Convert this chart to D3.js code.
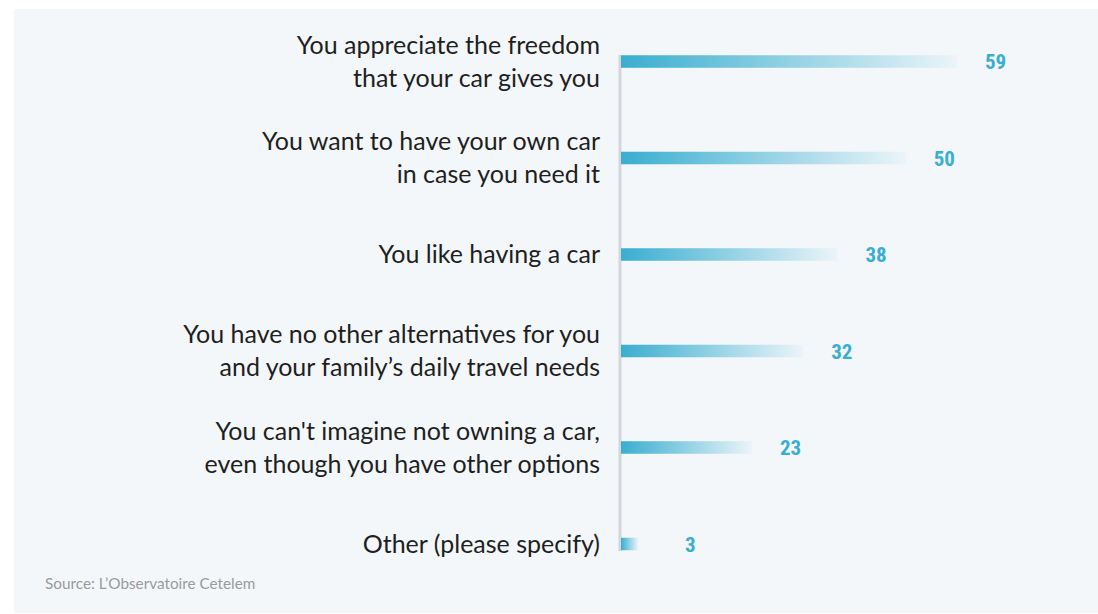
<!DOCTYPE html>
<html><head><meta charset="utf-8">
<script src="https://cdn.jsdelivr.net/npm/d3@7"></script>
<style>html,body{margin:0;padding:0;background:#fff;}svg{display:block;}</style>
</head><body>
<svg id="chart" width="1098" height="614"></svg>
<script>
const categories = [
  ["You appreciate the freedom","that your car gives you"],
  ["You want to have your own car","in case you need it"],
  ["You like having a car"],
  ["You have no other alternatives for you","and your family’s daily travel needs"],
  ["You can't imagine not owning a car,","even though you have other options"],
  ["Other (please specify)"]
];
const values = [59, 50, 38, 32, 23, 3];
const source = "Source: L’Observatoire Cetelem";

const svg = d3.select("#chart");
svg.append("rect").attr("x",14).attr("y",9).attr("width",1084).attr("height",604).attr("fill","#f3f7fa");

const x = d3.scaleLinear().domain([0,59]).range([621,957]);
const y = d3.scaleBand().domain(d3.range(categories.length)).range([7,598.5]).paddingInner(0.87).paddingOuter(0.5);

const defs = svg.append("defs");
const grad = defs.append("linearGradient").attr("id","g").attr("x1","0").attr("x2","1").attr("y1","0").attr("y2","0");
grad.append("stop").attr("offset","0").attr("stop-color","#3aaed0");
grad.append("stop").attr("offset","1").attr("stop-color","#3aaed0").attr("stop-opacity",0.04);

svg.append("line").attr("x1",620).attr("x2",620).attr("y1",55).attr("y2",551)
  .attr("stroke","#d3d6db").attr("stroke-width",3);

svg.selectAll("rect.bar").data(values).join("rect").attr("class","bar")
  .attr("x",x(0)).attr("y",(d,i)=>y(i)).attr("width",d=>x(d)-x(0)).attr("height",y.bandwidth())
  .attr("fill","url(#g)");

svg.selectAll("text.val").data(values).join("text").attr("class","val")
  .attr("x",d=>Math.max(x(d)+28, x(0)+64)).attr("y",(d,i)=>y(i)+y.bandwidth()/2).attr("dy","0.36em")
  .attr("font-family","'Roboto Condensed', Roboto, sans-serif").attr("font-weight",700).attr("font-size",21)
  .attr("fill","#3aaed0").text(d=>d);

const lab = svg.selectAll("text.cat").data(categories).join("text").attr("class","cat")
  .attr("text-anchor","end").attr("font-family","Lato, sans-serif")
  .attr("font-size",25).attr("fill","#1f1f1f");
lab.each(function(lines,i){
  const cy = y(i)+y.bandwidth()/2;
  const lh = 33;
  const t = d3.select(this);
  lines.forEach((l,k)=>{
    t.append("tspan").attr("x",600).attr("y",cy + (k-(lines.length-1)/2)*lh).attr("dy","0.35em").text(l);
  });
});

svg.append("text").attr("x",45).attr("y",589).attr("font-family","'Liberation Sans Narrow', Lato, sans-serif")
  .attr("font-size",15.3).attr("fill","#9a9a9a").text(source);
</script>
</body></html>
